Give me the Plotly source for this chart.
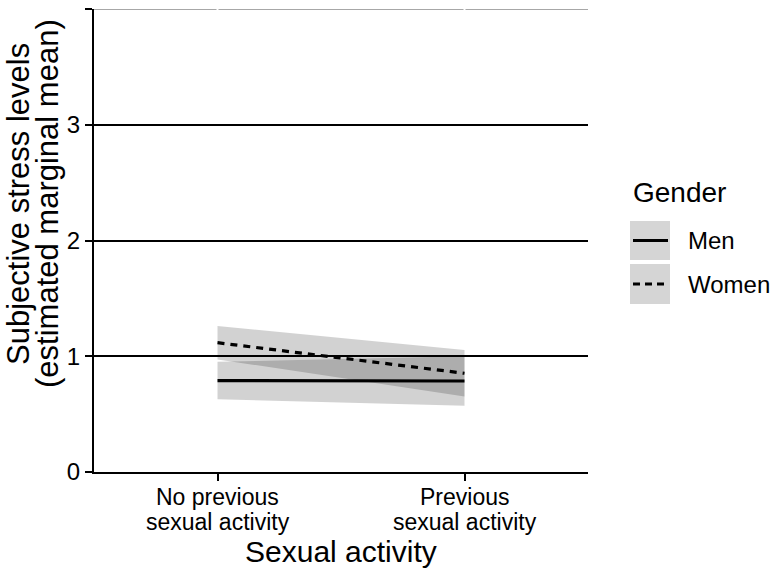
import plotly.graph_objects as go

# ---- data ----
categories = ["No previous\nsexual activity", "Previous\nsexual activity"]
genders = ["Men", "Women"]
men_mean = [0.79, 0.786]
men_lower = [0.628, 0.573]
men_upper = [0.952, 0.999]
women_mean = [1.117, 0.853]
women_lower = [0.973, 0.652]
women_upper = [1.261, 1.054]
y_ticks = [0, 1, 2, 3, 4]

FONT = "Liberation Sans, Arial, Helvetica, sans-serif"
W, H = 771, 569
ML, MR, MT, MB = 94, 183, 9, 97
PW, PH = W - ML - MR, H - MT - MB

def px2x(px):
    return (px - ML) / PW

def px2y(py):
    return (H - MB - py) / PH

xpos = list(range(1, len(categories) + 1))
ribbon_fill = "rgba(0,0,0,0.175)"

fig = go.Figure()
series = [
    ("Men", men_mean, men_lower, men_upper, "solid"),
    ("Women", women_mean, women_lower, women_upper, "7px,6px"),
]
for name, mean, lo, hi, dash in series:
    fig.add_trace(go.Scatter(
        x=xpos + xpos[::-1], y=hi + lo[::-1], fill="toself", fillcolor=ribbon_fill,
        line=dict(width=0), mode="lines", hoverinfo="skip", showlegend=False))
for name, mean, lo, hi, dash in series:
    fig.add_trace(go.Scatter(
        x=xpos, y=mean, mode="lines", name=name,
        line=dict(color="black", width=3.2, dash=dash), showlegend=False))

shapes = []
# top grid line appears grey (clipped at panel edge)
shapes.append(dict(type="line", xref="paper", yref="y", x0=0, x1=1, y0=4, y1=4,
                   line=dict(color="#8a8a8a", width=1.6), layer="between"))
# vertical white major gridlines over the horizontal ones
for xv in xpos:
    shapes.append(dict(type="line", xref="x", yref="paper", x0=xv, x1=xv, y0=0, y1=1,
                       line=dict(color="white", width=2), layer="between"))

annotations = []
# x tick labels (two tight lines each)
for xv, lab in zip(xpos, categories):
    for i, line in enumerate(lab.split("\n")):
        annotations.append(dict(text=line, xref="x", yref="paper", x=xv, y=px2y(497 + 25 * i),
                                xanchor="center", yanchor="middle", showarrow=False,
                                font=dict(family=FONT, size=23, color="black")))

# manual legend
key_boxes = [(221, 260), (264, 304)]
key_dash = ["solid", "7px,5px"]
for (top, bot), g, d in zip(key_boxes, genders, key_dash):
    shapes.append(dict(type="rect", xref="paper", yref="paper",
                       x0=px2x(630), x1=px2x(670), y0=px2y(bot), y1=px2y(top),
                       fillcolor="#d5d5d5", line=dict(width=0)))
    yc = px2y((top + bot) / 2)
    shapes.append(dict(type="line", xref="paper", yref="paper",
                       x0=px2x(633), x1=px2x(668), y0=yc, y1=yc,
                       line=dict(color="black", width=3.2, dash=d)))
    annotations.append(dict(text=g, xref="paper", yref="paper", x=px2x(686), y=yc,
                            xanchor="left", yanchor="middle", showarrow=False,
                            font=dict(family=FONT, size=24, color="black")))
annotations.append(dict(text="Gender", xref="paper", yref="paper", x=px2x(631), y=px2y(192),
                        xanchor="left", yanchor="middle", showarrow=False,
                        font=dict(family=FONT, size=28, color="black")))
# y-axis title (two lines)
for txt, cx in [("Subjective stress levels", 18), ("(estimated marginal mean)", 47)]:
    annotations.append(dict(text=txt, xref="paper", yref="paper", x=px2x(cx), y=px2y(204),
                            xanchor="center", yanchor="middle", textangle=-90, showarrow=False,
                            font=dict(family=FONT, size=31, color="black")))
# x-axis title
annotations.append(dict(text="Sexual activity", xref="paper", yref="paper", x=0.5, y=px2y(551),
                        xanchor="center", yanchor="middle", showarrow=False,
                        font=dict(family=FONT, size=30, color="black")))

fig.update_layout(
    width=W, height=H, margin=dict(l=ML, r=MR, t=MT, b=MB, autoexpand=False),
    paper_bgcolor="white", plot_bgcolor="white",
    font=dict(family=FONT, color="black"),
    shapes=shapes, annotations=annotations, showlegend=False,
    xaxis=dict(range=[0.5, 2.5], tickvals=xpos, showticklabels=False, showgrid=False,
               zeroline=False, showline=True, linecolor="black", linewidth=2,
               ticks="outside", ticklen=7, tickwidth=2, tickcolor="black"),
    yaxis=dict(range=[0, 4], tickvals=y_ticks, showgrid=True, gridcolor="black", gridwidth=1.6,
               zeroline=False, showline=True, linecolor="black", linewidth=2,
               ticks="outside", ticklen=7, tickwidth=2, tickcolor="black",
               tickfont=dict(family=FONT, size=24, color="black")),
)
fig.write_html("out.html", config={"displayModeBar": False},
               post_script="document.body.style.margin='0';document.body.style.padding='0';")
